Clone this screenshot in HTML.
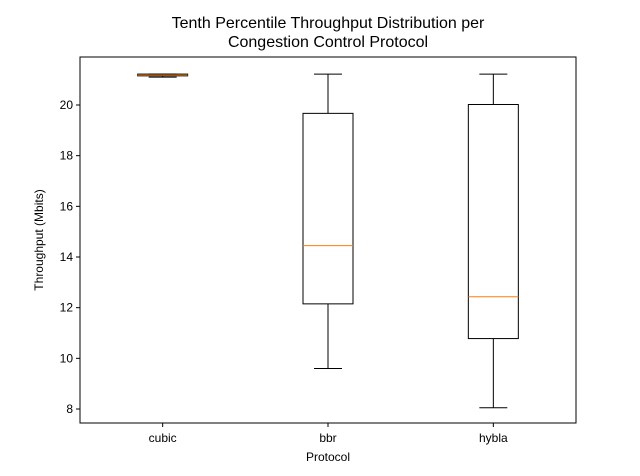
<!DOCTYPE html>
<html><head><meta charset="utf-8"><style>body{margin:0;background:#fff}svg{display:block;font-family:"Liberation Sans","DejaVu Sans",sans-serif}</style></head>
<body>
<svg id="c" width="640" height="476"></svg>
<script>
const categories=["cubic","bbr","hybla"];
const whiskerLow=[21.1,9.6,8.05];
const q1=[21.15,12.15,10.78];
const medians=[21.18,14.45,12.43];
const q3=[21.22,19.67,20.02];
const whiskerHigh=[21.22,21.22,21.22];
const yTicks=[8,10,12,14,16,18,20];
const L=80,R=576,T=57,B=423;
const y=v=>409-(v-8)*(304/12);
const x=i=>L+(R-L)*(i+0.5)/3;
const s=document.getElementById('c');
const NS='http://www.w3.org/2000/svg';
function el(t,a,p){const e=document.createElementNS(NS,t);for(const k in a)e.setAttribute(k,a[k]);(p||s).appendChild(e);return e;}
const title=el('text',{x:328,y:28,'text-anchor':'middle','font-size':16});


el('tspan',{x:328,dy:0},title).textContent='Tenth Percentile Throughput Distribution per';
el('tspan',{x:328,dy:19},title).textContent='Congestion Control Protocol';
yTicks.forEach(v=>{
 const g=el('g',{});
 
 
 el('line',{x1:L-4,x2:L,y1:y(v),y2:y(v),stroke:'#000'},g);
 el('text',{x:L-7,y:y(v)+4,'text-anchor':'end','font-size':12},g).textContent=v;
});
categories.forEach((c,i)=>{
 const cx=x(i),g=el('g',{});
 
 
 const st={stroke:'#000','stroke-width':1,fill:'none'};
 el('line',{x1:cx,x2:cx,y1:y(whiskerLow[i]),y2:y(q1[i]),...st},g);
 el('line',{x1:cx,x2:cx,y1:y(q3[i]),y2:y(whiskerHigh[i]),...st},g);
 el('line',{x1:cx-14,x2:cx+14,y1:y(whiskerLow[i]),y2:y(whiskerLow[i]),...st},g);
 el('line',{x1:cx-14,x2:cx+14,y1:y(whiskerHigh[i]),y2:y(whiskerHigh[i]),...st},g);
 el('rect',{x:cx-25,y:y(q3[i]),width:50,height:y(q1[i])-y(q3[i]),...st},g);
 el('line',{x1:cx-25,x2:cx+25,y1:y(medians[i]),y2:y(medians[i]),stroke:'#ff7f0e','stroke-width':1},g);
 el('line',{x1:cx,x2:cx,y1:B,y2:B+4,stroke:'#000'},g);
 el('text',{x:cx,y:B+19,'text-anchor':'middle','font-size':12},g).textContent=c;
});
const ax=el('rect',{x:L,y:T,width:R-L,height:B-T,fill:'none',stroke:'#000','stroke-width':1});


const xl=el('text',{x:328,y:461,'text-anchor':'middle','font-size':12});


xl.textContent='Protocol';
const yl=el('text',{x:0,y:0,'text-anchor':'middle','font-size':12,transform:'translate(43,240) rotate(-90)'});


yl.textContent='Throughput (Mbits)';
</script>
</body></html>
